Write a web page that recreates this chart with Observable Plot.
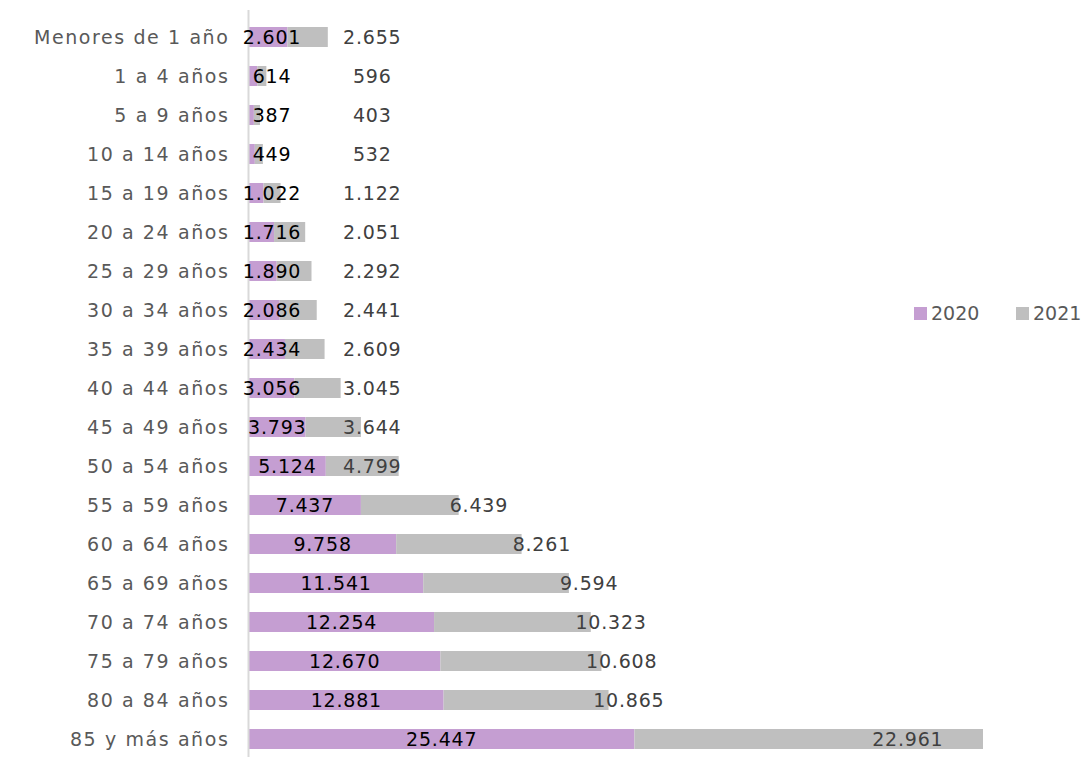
<!DOCTYPE html>
<html><head><meta charset="utf-8">
<script src="https://cdn.jsdelivr.net/npm/d3@7"></script>
<script src="https://cdn.jsdelivr.net/npm/@observablehq/plot@0.6"></script>
<style>
body{margin:0;background:#fff;font-family:"DejaVu Sans",sans-serif;overflow:hidden;}
#wrap{position:relative;width:1083px;height:757px;overflow:hidden;}
.leg{position:absolute;top:302px;font-size:19px;color:#595959;display:flex;align-items:center;white-space:nowrap;}
.sw{width:13px;height:13px;display:inline-block;margin-right:4px;}
</style></head>
<body><div id="wrap"></div>
<script>
const categories = ["Menores de 1 año","1 a 4 años","5 a 9 años","10 a 14 años","15 a 19 años","20 a 24 años","25 a 29 años","30 a 34 años","35 a 39 años","40 a 44 años","45 a 49 años","50 a 54 años","55 a 59 años","60 a 64 años","65 a 69 años","70 a 74 años","75 a 79 años","80 a 84 años","85 y más años"];
const values2020 = [2601,614,387,449,1022,1716,1890,2086,2434,3056,3793,5124,7437,9758,11541,12254,12670,12881,25447];
const values2021 = [2655,596,403,532,1122,2051,2292,2441,2609,3045,3644,4799,6439,8261,9594,10323,10608,10865,22961];
const years = ["2020","2021"];
const colors = ["#c59ed2","#bfbfbf"];

const fmt = d3.formatLocale({thousands:".", decimal:",", grouping:[3], currency:["",""]}).format(",d");
const rows = [];
categories.forEach((c,i)=>{
  rows.push({cat:c, year:"2020", v:values2020[i]});
  rows.push({cat:c, year:"2021", v:values2021[i]});
});
const lab20 = categories.map((c,i)=>({cat:c, v:values2020[i], x:Math.max(values2020[i]/2,1550)}));
const lab21 = categories.map((c,i)=>{
  const t = values2020[i]+values2021[i];
  return {cat:c, v:values2021[i], t, x: t<12000 ? 8150 : t + 1300};
});
const last = lab21[lab21.length-1];
const mid21 = lab21.slice(0,-1);

const chart = Plot.plot({
  width:1083, height:757,
  marginLeft:248, marginRight:100, marginTop:10, marginBottom:0,
  style:{fontFamily:"DejaVu Sans, sans-serif", fontSize:"19px"},
  x:{domain:[0,48408], axis:null},
  y:{domain:categories, range:[10,765], paddingInner:0.5, paddingOuter:0.25, label:null},
  color:{domain:years, range:colors},
  marks:[
    Plot.barX(rows, Plot.stackX({y:"cat", x:"v", fill:"year", order:years})),
    Plot.ruleX([0],{stroke:"#d9d9d9", strokeWidth:2}),
    Plot.axisY({tickSize:0, tickPadding:19, fontSize:19, color:"#595959", label:null}),
    Plot.text(lab20,{x:"x", y:"cat", text:d=>fmt(d.v), fill:"#000", fontSize:19, textAnchor:"middle"}),
    Plot.text(mid21,{x:"x", y:"cat", text:d=>fmt(d.v), fill:"#404040", fontSize:19, textAnchor:"middle"}),
    Plot.text([last],{x:"t", y:"cat", text:d=>fmt(d.v), fill:"#404040", fontSize:19, textAnchor:"end", dx:-40})
  ]
});
chart.querySelectorAll('g[aria-label="text"] text').forEach(t=>t.style.letterSpacing="0.8px");
chart.querySelectorAll('g[aria-label="y-axis tick label"] text').forEach(t=>t.style.letterSpacing="1.6px");
const wrap = document.getElementById("wrap");
wrap.appendChild(chart);
years.forEach((y,i)=>{
  const d = document.createElement("div");
  d.className="leg";
  d.style.left = (i===0?914:1016)+"px";
  d.innerHTML = `<span class="sw" style="background:${colors[i]}"></span>${y}`;
  wrap.appendChild(d);
});
</script></body></html>
